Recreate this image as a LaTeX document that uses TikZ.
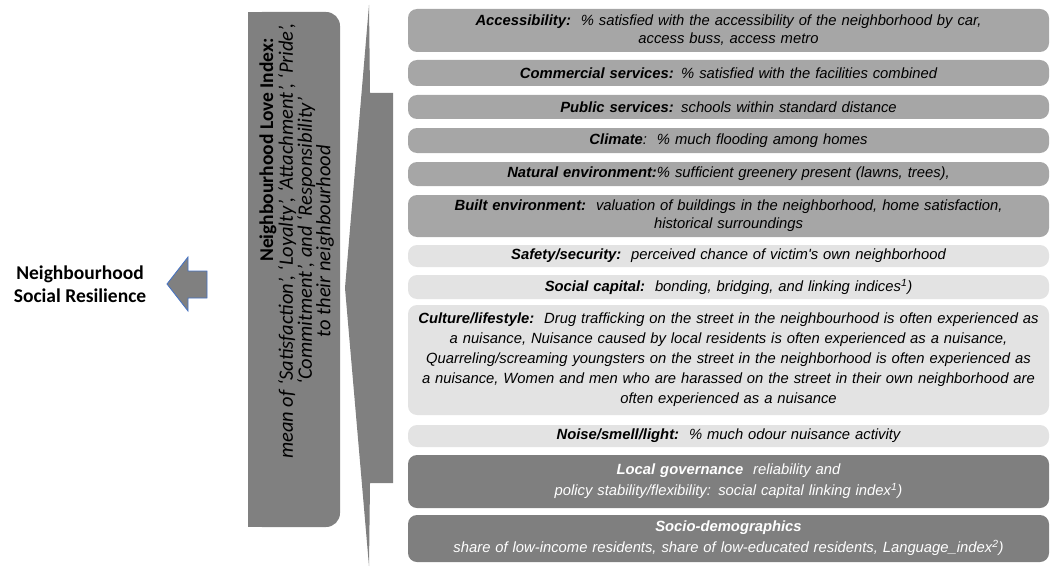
\documentclass[tikz,border=0pt]{standalone}
\usepackage{fontspec}
\setmainfont{Carlito}
\newfontfamily\arialfont{Liberation Sans}
\usetikzlibrary{positioning}
\definecolor{uppergray}{HTML}{A6A6A6}
\definecolor{middlegray}{HTML}{E3E3E3}
\definecolor{lowergray}{HTML}{7F7F7F}
\definecolor{boxgray}{HTML}{808080}
\definecolor{arrowblue}{HTML}{4472C4}

\begin{document}
\begin{tikzpicture}[x=1pt, y=-1pt,
            every node/.append style = {inner sep = 0pt},
            factor/.style = {rounded corners = 9pt, minimum width = 641pt, text width = 637pt, align = center,
                             font = \arialfont\itshape\fontsize{14.8}{18}\selectfont},
            upperfactor/.style = {factor, fill = uppergray},
            middlefactor/.style = {factor, fill = middlegray},
            lowerfactor/.style = {factor, fill = lowergray, text = white}]
        \useasboundingbox (0,0) rectangle (1051,567);

        \node[align = center, font = \bfseries\fontsize{19.5}{23.5}\selectfont] (nres) at (80,284) {Neighbourhood\\Social Resilience};
        \draw[arrowblue, fill = boxgray, line width = 0.8pt] (207,271) -- (188,271) -- (188,257) -- (167,284)
                -- (188,311) -- (188,298) -- (207,298) -- cycle;

        \fill[boxgray, rounded corners = 14pt] (248,12) rectangle (340,527);
        \fill[boxgray] (248,12) rectangle (300,527);
        \node[rotate = 90, font = \bfseries\fontsize{19.5}{23}\selectfont] (nlove) at (268,150) {Neighbourhood Love Index:};
        \node[rotate = 90, align = center, font = \itshape\fontsize{20.5}{17.5}\selectfont] (nmean) at (306,241)
                {mean of `Satisfaction', `Loyalty', `Attachment', `Pride',\\ `Commitment', and `Responsibility'\\ to their neighbourhood};

        \fill[boxgray] (369,5) -- (370,93) -- (393,93) -- (393,483) -- (370,483) -- (369,566) -- (345,288) -- cycle;

        \node[upperfactor, minimum height = 43pt] (nacc) at (728.5,30.5)
                {\textbf{Accessibility:}\ \ \% satisfied with the accessibility of the neighborhood by car,\\ access buss, access metro};
        \node[upperfactor, minimum height = 26pt] (ncom) at (728.5,73)
                {\textbf{Commercial services:} \% satisfied with the facilities combined};
        \node[upperfactor, minimum height = 24pt] (npub) at (728.5,107)
                {\textbf{Public services:} schools within standard distance};
        \node[upperfactor, minimum height = 25pt] (ncli) at (728.5,140.5)
                {\textbf{Climate}:\ \ \% much flooding among homes};
        \node[upperfactor, minimum height = 24pt] (nnat) at (728.5,174)
                {\textbf{Natural environment:}\% sufficient greenery present (lawns, trees),};
        \node[upperfactor, minimum height = 42pt] (nbui) at (728.5,216)
                {\textbf{Built environment:}\ \ valuation of buildings in the neighborhood, home satisfaction,\\ historical surroundings};
        \node[middlefactor, minimum height = 22pt] (nsaf) at (728.5,256)
                {\textbf{Safety/security:}\ \ perceived chance of victim's own neighborhood};
        \node[middlefactor, minimum height = 24pt] (nsoc) at (728.5,287)
                {\textbf{Social capital:}\ \ bonding, bridging, and linking indices\textsuperscript{1})};
        \node[middlefactor, minimum height = 110pt, font = \arialfont\itshape\fontsize{14.8}{20}\selectfont] (ncul) at (728.5,360)
                {\textbf{Culture/lifestyle:}\ \ Drug trafficking on the street in the neighbourhood is often experienced as\\
                 a nuisance, Nuisance caused by local residents is often experienced as a nuisance,\\
                 Quarreling/screaming youngsters on the street in the neighborhood is often experienced as\\
                 a nuisance, Women and men who are harassed on the street in their own neighborhood are\\
                 often experienced as a nuisance};
        \node[middlefactor, minimum height = 22pt] (nnoi) at (728.5,436)
                {\textbf{Noise/smell/light:}\ \ \% much odour nuisance activity};
        \node[lowerfactor, minimum height = 53pt, font = \arialfont\itshape\fontsize{14.8}{21}\selectfont] (nloc) at (728.5,481.5)
                {\textbf{Local governance}\ \ reliability and\\ policy stability/flexibility: social capital linking index\textsuperscript{1})};
        \node[lowerfactor, minimum height = 47pt, font = \arialfont\itshape\fontsize{14.8}{21}\selectfont] (nsde) at (728.5,538.5)
                {\textbf{Socio-demographics}\\ share of low-income residents, share of low-educated residents, Language\_index\textsuperscript{2})};
        \end{tikzpicture}
\end{document}
